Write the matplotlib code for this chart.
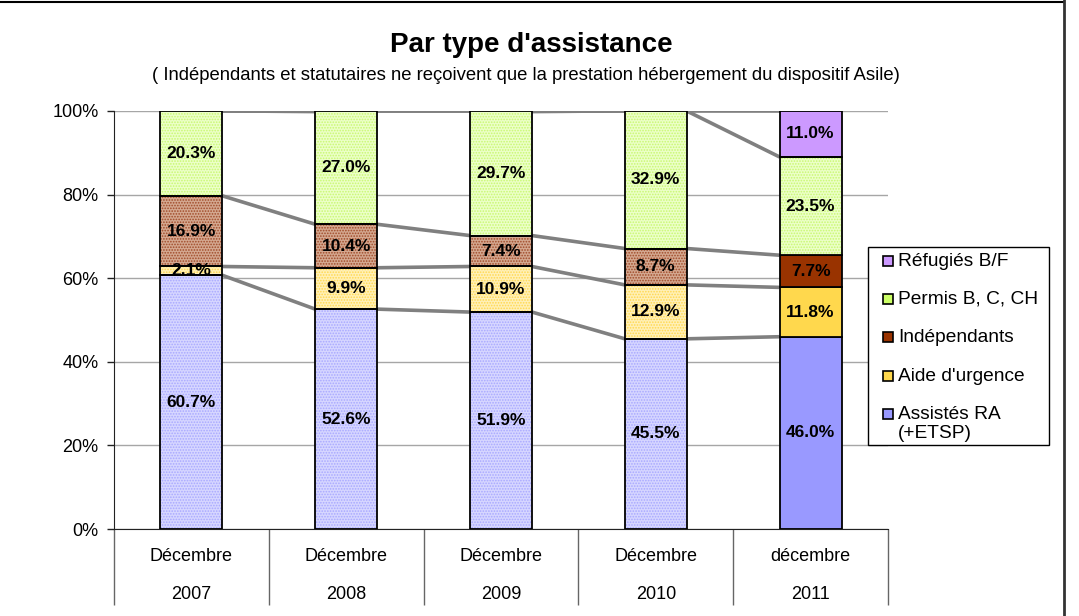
import numpy as np
import matplotlib
matplotlib.use("Agg")
import matplotlib.pyplot as plt
from matplotlib.patches import Rectangle
from matplotlib.lines import Line2D

plt.rcParams['font.family'] = ['Liberation Sans', 'DejaVu Sans']
plt.rcParams['hatch.linewidth'] = 0.8

# data (percent of total per year)
months = ["Décembre", "Décembre", "Décembre", "Décembre", "décembre"]
years = ["2007", "2008", "2009", "2010", "2011"]
series = ["Assistés RA\n(+ETSP)", "Aide d'urgence", "Indépendants", "Permis B, C, CH", "Réfugiés B/F"]
assistes = [60.7, 52.6, 51.9, 45.5, 46.0]
aide = [2.1, 9.9, 10.9, 12.9, 11.8]
independants = [16.9, 10.4, 7.4, 8.7, 7.7]
permis = [20.3, 27.0, 29.7, 32.9, 23.5]
refugies = [0.0, 0.0, 0.0, 0.0, 11.0]
values = [assistes, aide, independants, permis, refugies]

# styles
solid_colors = ["#9999ff", "#ffd84d", "#993300", "#ccff66", "#cc99ff"]
light_colors = ["#d6d6ff", "#fff0b8", "#d4a890", "#ecffc8", "#cc99ff"]
dot_colors = ["#a8a8ff", "#ffd84d", "#a04a28", "#c8f870", "#cc99ff"]
# which bars are drawn with a plain fill (the others have a dotted pattern)
plain = [
    [False, False, False, False, True],
    [False, False, False, False, True],
    [False, False, False, False, True],
    [False, False, False, False, False],
    [True, True, True, True, True],
]

W, H = 1079, 616
fig = plt.figure(figsize=(W / 100, H / 100), dpi=100)
ax = fig.add_axes([114 / W, 1 - 529 / H, 774 / W, 418 / H])

x = np.arange(len(years))
bw = 0.4
bottom = np.zeros(len(years))
tops = []
for s, vals in enumerate(values):
    vals = np.array(vals)
    for i in range(len(years)):
        if vals[i] <= 0:
            continue
        if plain[s][i]:
            ax.bar(x[i], vals[i], bw, bottom=bottom[i], color=solid_colors[s],
                   edgecolor="black", linewidth=1.3, zorder=3)
        else:
            ax.bar(x[i], vals[i], bw, bottom=bottom[i], color=light_colors[s],
                   edgecolor="none", linewidth=0, zorder=3)
            ax.bar(x[i], vals[i], bw, bottom=bottom[i], color="none",
                   edgecolor=dot_colors[s], hatch="......", linewidth=0, zorder=3)
            ax.bar(x[i], vals[i], bw, bottom=bottom[i], color="none",
                   edgecolor="black", linewidth=1.3, zorder=4)
        ax.text(x[i], bottom[i] + vals[i] / 2, f"{vals[i]:.1f}%", ha="center", va="center",
                fontsize=12.5, fontweight="bold", zorder=6)
    bottom = bottom + vals
    tops.append(bottom.copy())

# series lines between bars
for top in tops:
    for i in range(len(years) - 1):
        ax.plot([x[i] + bw / 2, x[i + 1] - bw / 2], [top[i], top[i + 1]],
                color="#808080", linewidth=2.6, zorder=2, solid_capstyle="butt")

ax.set_xlim(-0.5, len(years) - 0.5)
ax.set_ylim(0, 100)
ax.set_yticks(np.arange(0, 101, 20))
ax.set_yticklabels([f"{v}%" for v in range(0, 101, 20)], fontsize=13)
ax.yaxis.grid(True, color="#a6a6a6", linewidth=1, zorder=0)
ax.set_axisbelow(True)
for sp in ["top", "right"]:
    ax.spines[sp].set_visible(False)
ax.spines["left"].set_color("#222222")
ax.spines["bottom"].set_color("#222222")
ax.tick_params(axis="y", length=5, width=1, color="#222222", pad=6)

ax.set_xticks(x)
ax.set_xticklabels([f"{m}\n{y}" for m, y in zip(months, years)], fontsize=13, linespacing=2.6)
ax.tick_params(axis="x", which="major", length=0, pad=14)
ax.set_xticks(np.arange(-0.5, len(years)), minor=True)
ax.tick_params(axis="x", which="minor", length=55, width=1, color="#666666")

# titles
fig.text(531 / W, 1 - 45 / H, "Par type d'assistance", ha="center", va="center",
         fontsize=20, fontweight="bold")
fig.text(526 / W, 1 - 75 / H,
         "( Indépendants et statutaires ne reçoivent que la prestation hébergement du dispositif Asile)",
         ha="center", va="center", fontsize=13.3)

# legend
fig.add_artist(Rectangle((868 / W, 1 - 445 / H), 181 / W, 198 / H, transform=fig.transFigure,
                         facecolor="white", edgecolor="black", linewidth=1))
row_y = [414, 376, 337, 299, 261]
for s, name in enumerate(series):
    yc = row_y[s]
    fig.add_artist(Rectangle((883 / W, 1 - (yc + 5) / H), 10 / W, 10 / H, transform=fig.transFigure,
                             facecolor=solid_colors[s], edgecolor="black", linewidth=1.2))
    fig.text(898 / W, 1 - (yc - 8) / H, name, ha="left", va="top", fontsize=13.8, linespacing=1.15)

# chart frame
fig.add_artist(Line2D([0, 1064 / W], [1 - 1.5 / H] * 2, transform=fig.transFigure, color="black", linewidth=1.5))
fig.add_artist(Line2D([1064 / W] * 2, [0, 1], transform=fig.transFigure, color="#333333", linewidth=2))

fig.savefig("out.png", dpi=100)
